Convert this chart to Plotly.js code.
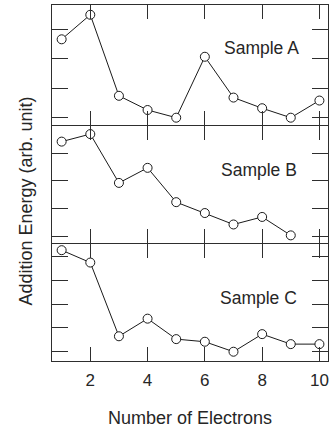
<!DOCTYPE html>
<html>
<head>
<meta charset="utf-8">
<script src="https://cdn.plot.ly/plotly-3.0.1.min.js"></script>
<style>html,body{margin:0;padding:0;background:#fff;}#chart{width:332px;height:428px;}</style>
</head>
<body>
<div id="chart"></div>
<script>
// Number of electrons
var electrons = [1, 2, 3, 4, 5, 6, 7, 8, 9, 10];
var electronsB = [1, 2, 3, 4, 5, 6, 7, 8, 9];
// Addition energy (arbitrary units, one tick = one unit)
var sampleA = [3.66, 4.49, 1.75, 1.27, 1.01, 3.07, 1.69, 1.33, 1.01, 1.59];
var sampleB = [4.41, 4.68, 2.93, 3.47, 2.24, 1.85, 1.44, 1.71, 1.05];
var sampleC = [5.27, 4.75, 1.65, 2.39, 1.53, 1.42, 1.00, 1.74, 1.32, 1.32];
var xTicks = [2, 4, 6, 8, 10];
var panelNames = ["Sample A", "Sample B", "Sample C"];
var xTitle = "Number of Electrons";
var yTitle = "Addition Energy (arb. unit)";

var FONT = "Liberation Sans, Arial, sans-serif";
var TXT = "#262626";
var AX = "#2e2e2e";

function trace(x, y, xa, ya) {
  return {
    x: x, y: y, xaxis: xa, yaxis: ya, type: "scatter", mode: "lines+markers",
    line: {color: "#1a1a1a", width: 1},
    marker: {symbol: "circle", size: 9, color: "#ffffff", line: {color: "#1a1a1a", width: 1}},
    showlegend: false, cliponaxis: false
  };
}

var data = [
  trace(electrons, sampleA, "x", "y"),
  trace(electronsB, sampleB, "x2", "y2"),
  trace(electrons, sampleC, "x3", "y3")
];

function xax(anchor, showLabels) {
  return {
    anchor: anchor, range: [0.663, 10.30], tickvals: xTicks, ticktext: xTicks.map(String),
    ticks: "inside", ticklen: 14, tickwidth: 1, tickcolor: AX,
    showline: true, linecolor: AX, linewidth: 1, mirror: "ticks",
    showgrid: false, zeroline: false, showticklabels: showLabels,
    tickfont: {family: FONT, size: 17, color: TXT}
  };
}
function yax(anchor, domain, range) {
  return {
    anchor: anchor, domain: domain, range: range, dtick: 1, tick0: 0,
    ticks: "inside", ticklen: 16, tickwidth: 1, tickcolor: AX,
    showline: true, linecolor: AX, linewidth: 1, mirror: "ticks",
    showgrid: false, zeroline: false, showticklabels: false
  };
}

var x3 = xax("y3", true);
x3.title = {text: xTitle, font: {family: FONT, size: 18, color: TXT}, standoff: 21};
x3.ticklabelstandoff = 4;

var layout = {
  width: 332, height: 428,
  margin: {l: 52, r: 4, t: 5, b: 67},
  paper_bgcolor: "#ffffff", plot_bgcolor: "#ffffff",
  xaxis: xax("y", false),
  xaxis2: xax("y2", false),
  xaxis3: x3,
  yaxis: yax("x", [236 / 356, 1], [0.763, 4.82]),
  yaxis2: yax("x2", [118 / 356, 235 / 356], [0.776, 4.97]),
  yaxis3: yax("x3", [0, 117 / 356], [0.61, 5.53]),
  annotations: [
    {text: panelNames[0], xref: "x", yref: "y", x: 7.99, y: 3.38, showarrow: false,
     font: {family: FONT, size: 17.5, color: TXT}},
    {text: panelNames[1], xref: "x2", yref: "y2", x: 7.88, y: 3.40, showarrow: false,
     font: {family: FONT, size: 17.5, color: TXT}},
    {text: panelNames[2], xref: "x3", yref: "y3", x: 7.89, y: 3.27, showarrow: false,
     font: {family: FONT, size: 17.5, color: TXT}},
    {text: yTitle, xref: "paper", yref: "paper", x: -26.5 / 276, xanchor: "center",
     y: (361 - 201) / 356, yanchor: "middle", textangle: -90, showarrow: false,
     font: {family: FONT, size: 18, color: TXT}}
  ]
};

Plotly.newPlot("chart", data, layout, {displayModeBar: false, staticPlot: true});
</script>
</body>
</html>
